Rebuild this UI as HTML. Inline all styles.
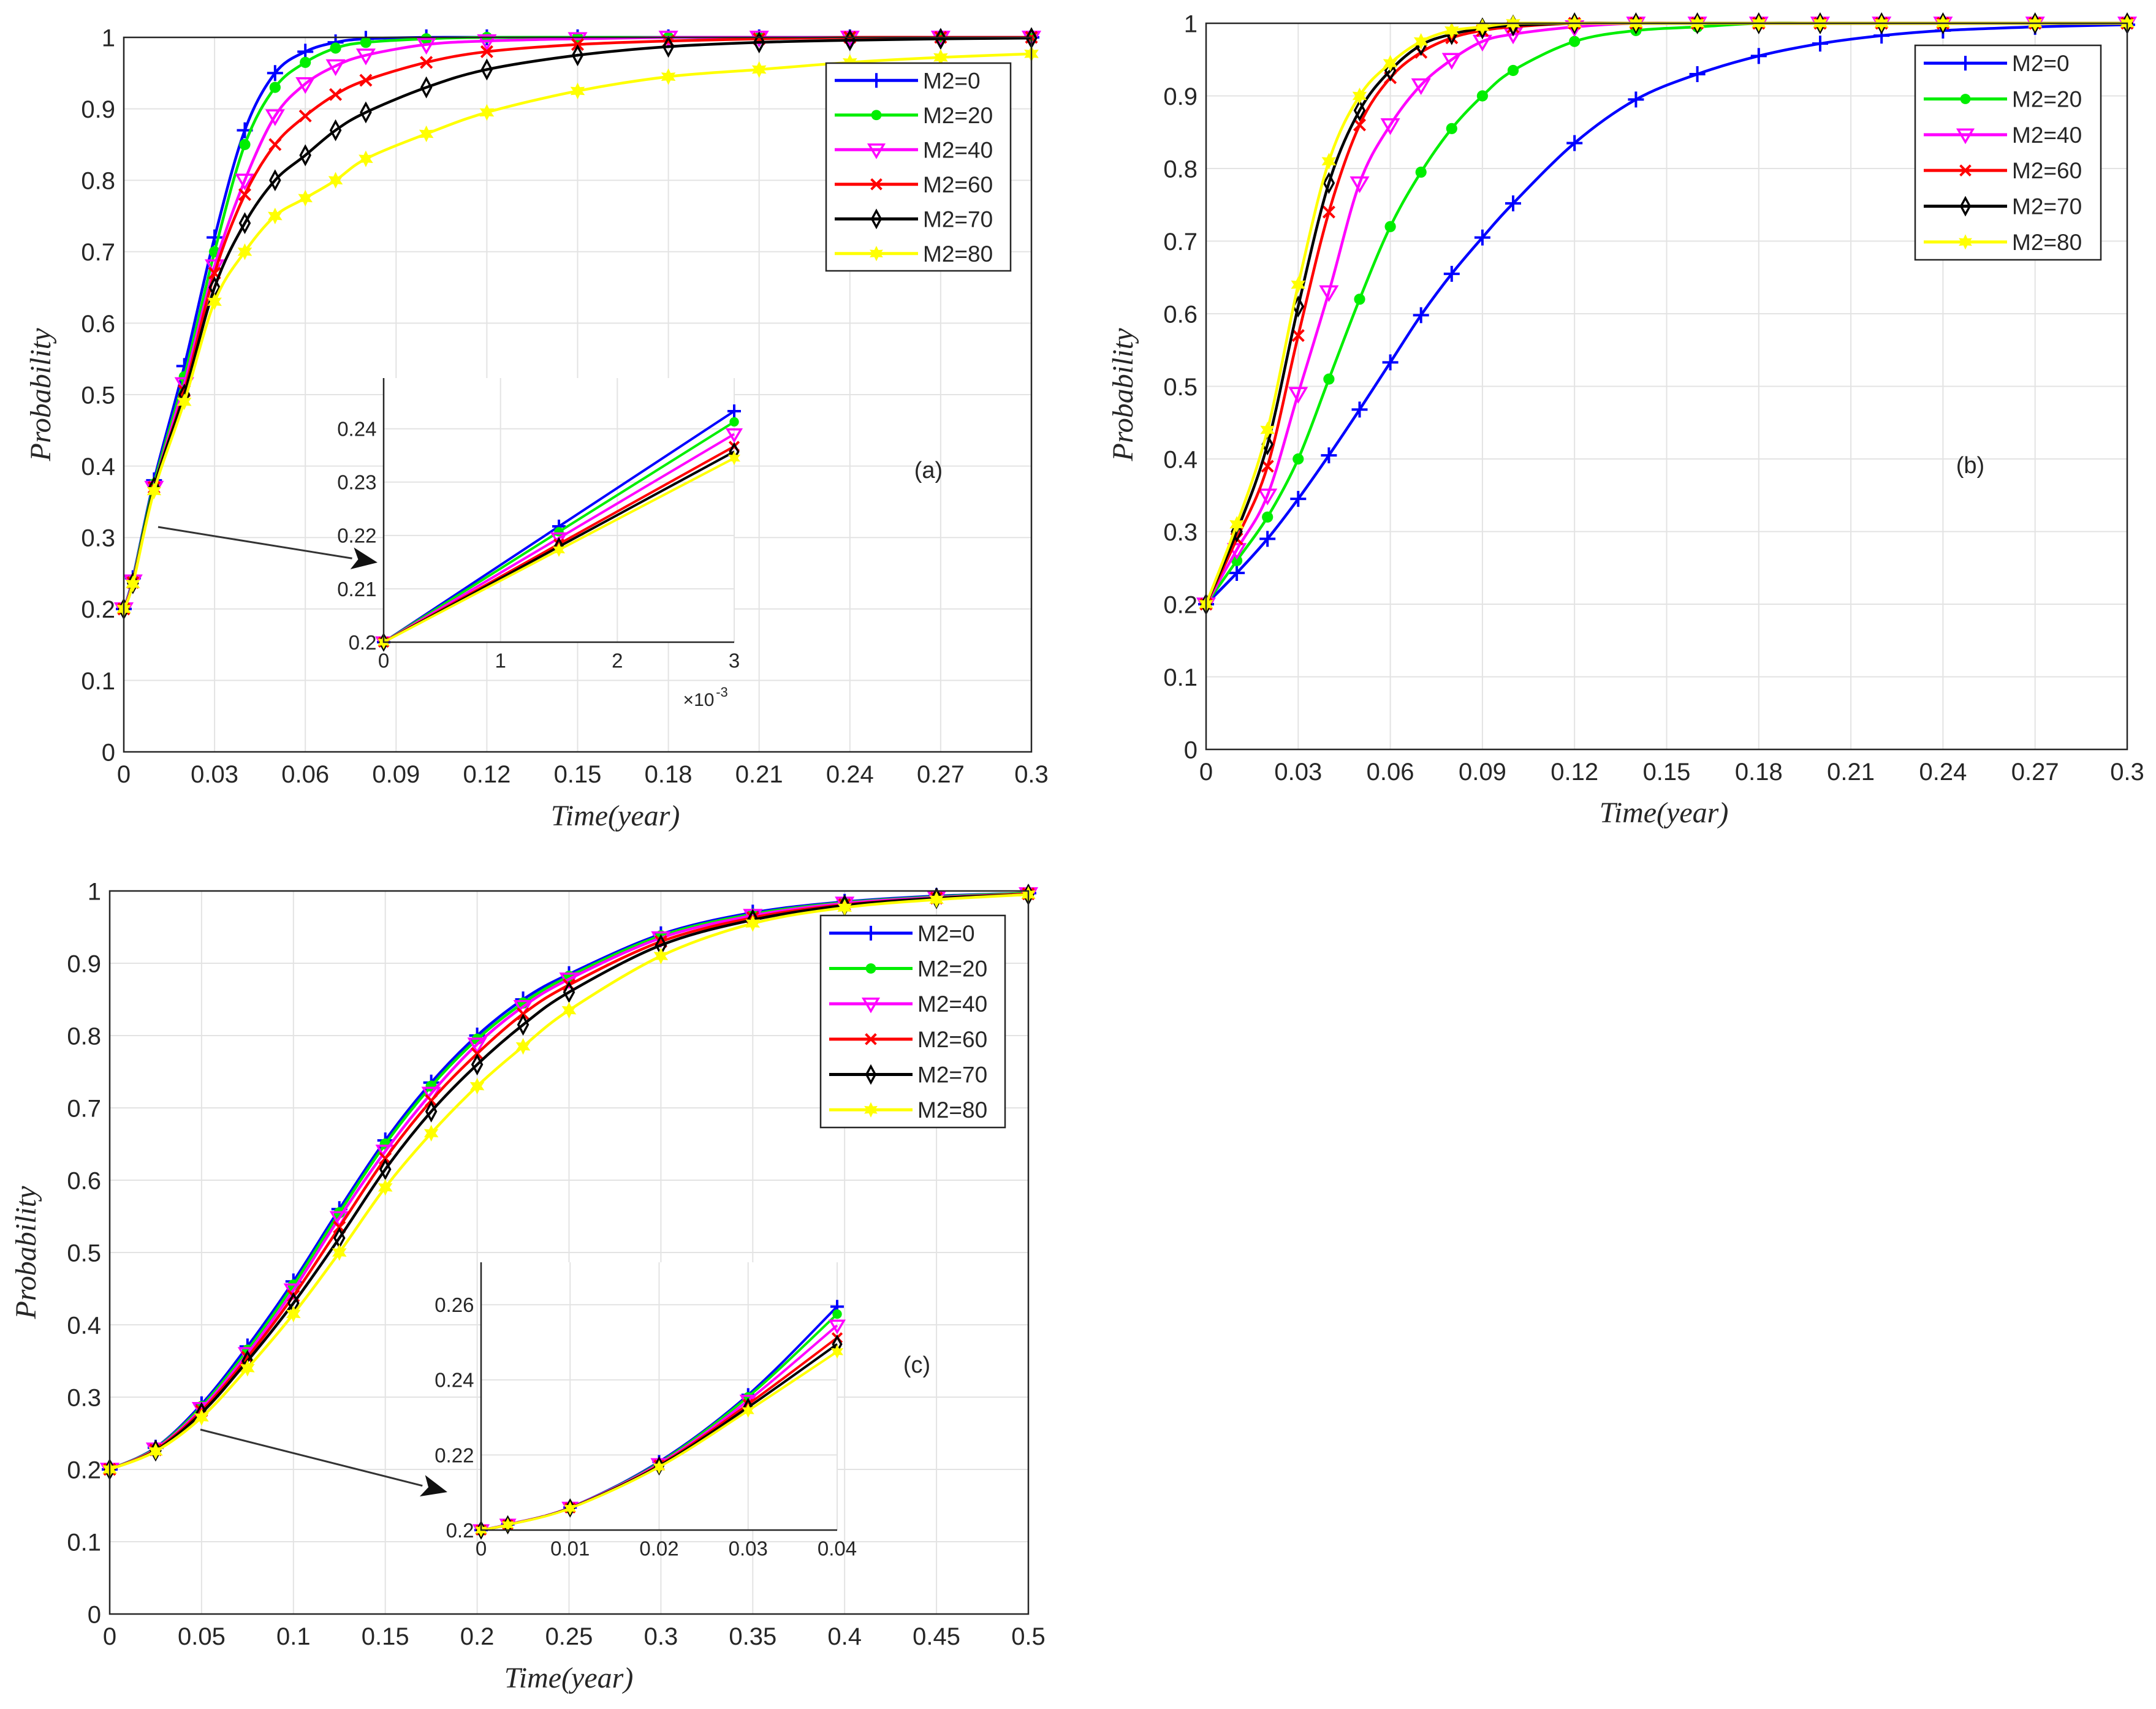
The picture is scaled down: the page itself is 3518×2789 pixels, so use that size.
<!DOCTYPE html>
<html><head><meta charset="utf-8">
<style>
html,body{margin:0;padding:0;background:#fff;}
svg{display:block;}
text{font-family:"Liberation Sans",sans-serif;fill:#262626;}
.lab{font-family:"Liberation Serif",serif;font-style:italic;}
</style></head>
<body>
<svg id="fig" width="3518" height="2789" viewBox="0 0 3518 2789" xmlns="http://www.w3.org/2000/svg"></svg>
<script>
// ---------- data ----------
const seriesNames = ["M2=0","M2=20","M2=40","M2=60","M2=70","M2=80"];
const seriesColors = ["#0000ff","#00ee00","#ff00ff","#ff0000","#000000","#ffff00"];
const seriesMarkers = ["plus","circle","tri","x","diamond","star"];

const aX = [0,0.003,0.01,0.02,0.03,0.04,0.05,0.06,0.07,0.08,0.1,0.12,0.15,0.18,0.21,0.24,0.27,0.3];
const aM0  = [0.2,0.243,0.38,0.54,0.72,0.87,0.95,0.98,0.993,0.998,1,1,1,1,1,1,1,1];
const aM20 = [0.2,0.241,0.375,0.525,0.70,0.85,0.93,0.965,0.985,0.993,0.998,1,1,1,1,1,1,1];
const aM40 = [0.2,0.239,0.37,0.515,0.68,0.80,0.89,0.935,0.96,0.975,0.99,0.995,0.998,1,1,1,1,1];
const aM60 = [0.2,0.237,0.37,0.505,0.67,0.78,0.85,0.89,0.92,0.94,0.965,0.98,0.99,0.995,0.998,1,1,1];
const aM70 = [0.2,0.236,0.37,0.50,0.65,0.74,0.80,0.835,0.87,0.895,0.93,0.955,0.975,0.987,0.993,0.996,0.998,0.999];
const aM80 = [0.2,0.235,0.365,0.49,0.63,0.70,0.75,0.775,0.80,0.83,0.865,0.895,0.925,0.945,0.955,0.965,0.972,0.977];

const aInsX = [0,0.0015,0.003];
const aIns0  = [0.2,0.2217,0.2433];
const aIns20 = [0.2,0.2207,0.2413];
const aIns40 = [0.2,0.2195,0.239];
const aIns60 = [0.2,0.2184,0.2367];
const aIns70 = [0.2,0.2179,0.2357];
const aIns80 = [0.2,0.2173,0.2345];

const bX = [0,0.01,0.02,0.03,0.04,0.05,0.06,0.07,0.08,0.09,0.1,0.12,0.14,0.16,0.18,0.2,0.22,0.24,0.27,0.3];
const bM0  = [0.2,0.243,0.29,0.345,0.405,0.468,0.533,0.598,0.655,0.705,0.752,0.835,0.895,0.93,0.955,0.972,0.983,0.99,0.995,0.998];
const bM20 = [0.2,0.26,0.32,0.40,0.51,0.62,0.72,0.795,0.855,0.90,0.935,0.975,0.99,0.995,1,1,1,1,1,1];
const bM40 = [0.2,0.275,0.35,0.49,0.63,0.78,0.86,0.915,0.95,0.975,0.985,0.995,1,1,1,1,1,1,1,1];
const bM60 = [0.2,0.29,0.39,0.57,0.74,0.86,0.925,0.96,0.98,0.99,0.995,1,1,1,1,1,1,1,1,1];
const bM70 = [0.2,0.30,0.42,0.61,0.78,0.88,0.935,0.97,0.985,0.993,0.997,1,1,1,1,1,1,1,1,1];
const bM80 = [0.2,0.31,0.44,0.64,0.81,0.90,0.945,0.975,0.99,0.995,1,1,1,1,1,1,1,1,1,1];

const cX = [0,0.025,0.05,0.075,0.1,0.125,0.15,0.175,0.2,0.225,0.25,0.3,0.35,0.4,0.45,0.5];
const cM0  = [0.2,0.23,0.29,0.37,0.46,0.56,0.655,0.735,0.80,0.85,0.885,0.94,0.97,0.985,0.993,0.997];
const cM20 = [0.2,0.229,0.287,0.365,0.455,0.555,0.65,0.73,0.795,0.845,0.882,0.938,0.968,0.984,0.992,0.997];
const cM40 = [0.2,0.228,0.284,0.36,0.448,0.548,0.64,0.72,0.788,0.84,0.878,0.935,0.966,0.983,0.991,0.996];
const cM60 = [0.2,0.227,0.281,0.355,0.44,0.535,0.63,0.71,0.775,0.83,0.87,0.93,0.963,0.981,0.99,0.996];
const cM70 = [0.2,0.226,0.278,0.35,0.43,0.52,0.615,0.695,0.76,0.815,0.86,0.925,0.96,0.98,0.99,0.995];
const cM80 = [0.2,0.225,0.272,0.34,0.415,0.50,0.59,0.665,0.73,0.785,0.835,0.91,0.955,0.977,0.988,0.995];

const cInsX = [0,0.003,0.01,0.02,0.03,0.04];
const cIns0  = [0.2,0.2015,0.206,0.2182,0.236,0.2595];
const cIns20 = [0.2,0.2015,0.206,0.2179,0.2355,0.2575];
const cIns40 = [0.2,0.2015,0.206,0.2176,0.2345,0.2545];
const cIns60 = [0.2,0.2014,0.2059,0.2173,0.2335,0.2512];
const cIns70 = [0.2,0.2014,0.2059,0.2171,0.2327,0.2495];
const cIns80 = [0.2,0.2014,0.2058,0.2168,0.2318,0.2475];

const abXTicks = ["0","0.03","0.06","0.09","0.12","0.15","0.18","0.21","0.24","0.27","0.3"];
const cXTicks = ["0","0.05","0.1","0.15","0.2","0.25","0.3","0.35","0.4","0.45","0.5"];
const yTicks = ["0","0.1","0.2","0.3","0.4","0.5","0.6","0.7","0.8","0.9","1"];
const aInsYTicks = ["0.2","0.21","0.22","0.23","0.24"];
const aInsXTicks = ["0","1","2","3"];
const cInsYTicks = ["0.2","0.22","0.24","0.26"];
const cInsXTicks = ["0","0.01","0.02","0.03","0.04"];

// ---------- drawing ----------
const NS="http://www.w3.org/2000/svg";
const svg=document.getElementById('fig');
function mk(tag,attrs,parent){const e=document.createElementNS(NS,tag);for(const k in attrs)e.setAttribute(k,attrs[k]);(parent||svg).appendChild(e);return e;}
function smooth(pts){
  let d="M"+pts[0][0]+","+pts[0][1];
  for(let i=0;i<pts.length-1;i++){
    const p0=pts[Math.max(0,i-1)],p1=pts[i],p2=pts[i+1],p3=pts[Math.min(pts.length-1,i+2)];
    const c1=[p1[0]+(p2[0]-p0[0])/6,p1[1]+(p2[1]-p0[1])/6];
    const c2=[p2[0]-(p3[0]-p1[0])/6,p2[1]-(p3[1]-p1[1])/6];
    d+=" C"+c1[0]+","+c1[1]+" "+c2[0]+","+c2[1]+" "+p2[0]+","+p2[1];
  }
  return d;
}
function marker(g,type,x,y,col,s){
  let e;
  if(type==="plus") e=mk('path',{d:`M${x-s},${y}H${x+s}M${x},${y-s}V${y+s}`,stroke:col,'stroke-width':4,fill:'none'},g);
  else if(type==="x") e=mk('path',{d:`M${x-s*.7},${y-s*.7}L${x+s*.7},${y+s*.7}M${x-s*.7},${y+s*.7}L${x+s*.7},${y-s*.7}`,stroke:col,'stroke-width':4,fill:'none'},g);
  else if(type==="circle") e=mk('circle',{cx:x,cy:y,r:s*.7,fill:col},g);
  else if(type==="tri") e=mk('path',{d:`M${x-s},${y-s*.7}L${x+s},${y-s*.7}L${x},${y+s}Z`,stroke:col,'stroke-width':3.5,fill:'none'},g);
  else if(type==="diamond") e=mk('path',{d:`M${x},${y-s*1.1}L${x+s*.6},${y}L${x},${y+s*1.1}L${x-s*.6},${y}Z`,stroke:col,'stroke-width':3.5,fill:'none'},g);
  else {let d="";for(let k=0;k<12;k++){const r=k%2?s*.55:s*1.05;const a=k*Math.PI/6-Math.PI/2;d+=(k?"L":"M")+(x+r*Math.cos(a))+","+(y+r*Math.sin(a));}
    e=mk('path',{d:d+"Z",fill:col},g);}
  return e;
}
function axes(cfg){
  const g=mk('g',{});
  
  
  const {L,R,T,B,xmin,xmax,ymin,ymax}=cfg;
  const sx=v=>L+(v-xmin)/(xmax-xmin)*(R-L);
  const sy=v=>B-(v-ymin)/(ymax-ymin)*(B-T);
  mk('rect',{x:L,y:T,width:R-L,height:B-T,fill:'#fff'},g);
  const fs=cfg.fs;
  cfg.xt.forEach((t,i)=>{const v=cfg.xv[i];const x=sx(v);
    mk('line',{x1:x,y1:T,x2:x,y2:B,stroke:'#e3e3e3','stroke-width':2},g);
    const tx=mk('text',{x:x,y:B+fs*1.25,'font-size':fs,'text-anchor':'middle'},g);tx.textContent=t;
    
    });
  cfg.yt.forEach((t,i)=>{const v=cfg.yv[i];const y=sy(v);
    mk('line',{x1:L,y1:y,x2:R,y2:y,stroke:'#e3e3e3','stroke-width':2},g);
    const ty=mk('text',{x:L-fs*0.35,y:y+fs*0.36,'font-size':fs,'text-anchor':'end'},g);ty.textContent=t;
    
    });
  const clipId=cfg.name+"-clip";
  const cp=mk('clipPath',{id:clipId},g);mk('rect',{x:L-30,y:T-30,width:R-L+60,height:B-T+60},cp);
  cfg.series.forEach((ys,si)=>{
    const sg=mk('g',{'clip-path':`url(#${clipId})`},g);
    
    
    const pts=cfg.x.map((v,i)=>[sx(v),sy(ys[i])]);
    const p=mk('path',{d:cfg.straight?("M"+pts.map(p=>p.join(",")).join("L")):smooth(pts),stroke:seriesColors[si],'stroke-width':cfg.lw,fill:'none'},sg);
    
    
    pts.forEach((pt,i)=>{
      const m=marker(sg,seriesMarkers[si],pt[0],pt[1],seriesColors[si],cfg.ms);
      
      });
  });
  if(cfg.box) mk('rect',{x:L,y:T,width:R-L,height:B-T,fill:'none',stroke:'#262626','stroke-width':2.5},g);
  else mk('path',{d:`M${L},${T}V${B}H${R}`,fill:'none',stroke:'#262626','stroke-width':2.5},g);
  return g;
}
function legend(x,y,w,h,name){
  const g=mk('g',{});
  
  
  mk('rect',{x:x,y:y,width:w,height:h,fill:'#fff',stroke:'#262626','stroke-width':2.5},g);
  const step=h/6;
  seriesNames.forEach((n,i)=>{
    const cy=y+step*(i+0.5);
    const eg=mk('g',{},g);
    
    
    mk('line',{x1:x+14,y1:cy,x2:x+150,y2:cy,stroke:seriesColors[i],'stroke-width':5},eg);
    marker(eg,seriesMarkers[i],x+82,cy,seriesColors[i],12);
    const t=mk('text',{x:x+158,y:cy+13,'font-size':37},eg);t.textContent=n;
  });
}
function text(x,y,s,fs,name,cls,rot){
  const t=mk('text',{x:x,y:y,'font-size':fs,'text-anchor':'middle'});
  if(cls)t.setAttribute('class',cls);
  if(rot)t.setAttribute('transform',`rotate(-90 ${x} ${y})`);
  t.textContent=s;
  
  
  return t;
}
function arrow(x1,y1,x2,y2,name){
  const g=mk('g',{});
  
  
  const a=Math.atan2(y2-y1,x2-x1),L=42,W=18;
  const bx=x2-L*Math.cos(a),by=y2-L*Math.sin(a);
  mk('line',{x1:x1,y1:y1,x2:bx,y2:by,stroke:'#333','stroke-width':3},g);
  mk('path',{d:`M${x2},${y2}L${bx+W*Math.sin(a)},${by-W*Math.cos(a)}L${bx+10*Math.cos(a)},${by+10*Math.sin(a)}L${bx-W*Math.sin(a)},${by+W*Math.cos(a)}Z`,fill:'#111'},g);
}
const abXv=abXTicks.map(Number), cXv=cXTicks.map(Number), yv=yTicks.map(Number);

// Panel (a)
axes({name:'panel-a',L:202,R:1683,T:61,B:1227,xmin:0,xmax:0.3,ymin:0,ymax:1,xt:abXTicks,xv:abXv,yt:yTicks,yv:yv,fs:40,
  x:aX,series:[aM0,aM20,aM40,aM60,aM70,aM80],lw:4.5,ms:13,box:true});
legend(1348,103,301,339,'legend-a');
arrow(258,860,616,918,'zoom-arrow-a');
axes({name:'inset-a',L:626,R:1198,T:617,B:1048,xmin:0,xmax:0.003,ymin:0.2,ymax:0.2495,xt:aInsXTicks,xv:aInsXTicks.map(v=>Number(v)*0.001),
  yt:aInsYTicks,yv:aInsYTicks.map(Number),fs:33,x:aInsX,series:[aIns0,aIns20,aIns40,aIns60,aIns70,aIns80],lw:4,ms:11,straight:true,box:false});
text(1140,1152,"×10",30,'x-exponent-label');
text(1178,1137,"-3",22,'x-exponent-power');
text(1515,780,"(a)",38,'panel-a-tag');
text(1004,1347,"Time(year)",48,'x-axis-title','lab');
text(82,644,"Probability",48,'y-axis-title','lab',true);

// Panel (b)
axes({name:'panel-b',L:1968,R:3471,T:38,B:1223,xmin:0,xmax:0.3,ymin:0,ymax:1,xt:abXTicks,xv:abXv,yt:yTicks,yv:yv,fs:40,
  x:bX,series:[bM0,bM20,bM40,bM60,bM70,bM80],lw:4.5,ms:13,box:true});
legend(3125,74,303,350,'legend-b');
text(3215,772,"(b)",38,'panel-b-tag');
text(2715,1342,"Time(year)",48,'x-axis-title','lab');
text(1848,644,"Probability",48,'y-axis-title','lab',true);

// Panel (c)
axes({name:'panel-c',L:179,R:1678,T:1454,B:2634,xmin:0,xmax:0.5,ymin:0,ymax:1,xt:cXTicks,xv:cXv,yt:yTicks,yv:yv,fs:40,
  x:cX,series:[cM0,cM20,cM40,cM60,cM70,cM80],lw:4.5,ms:13,box:true});
legend(1339,1494,301,346,'legend-c');
arrow(327,2333,730,2435,'zoom-arrow-c');
axes({name:'inset-c',L:785,R:1366,T:2060,B:2497,xmin:0,xmax:0.04,ymin:0.2,ymax:0.2713,xt:cInsXTicks,xv:cInsXTicks.map(Number),
  yt:cInsYTicks,yv:cInsYTicks.map(Number),fs:33,x:cInsX,series:[cIns0,cIns20,cIns40,cIns60,cIns70,cIns80],lw:4,ms:11,box:false});
text(1496,2240,"(c)",38,'panel-c-tag');
text(928,2754,"Time(year)",48,'x-axis-title','lab');
text(58,2044,"Probability",48,'y-axis-title','lab',true);
</script>
</body></html>
